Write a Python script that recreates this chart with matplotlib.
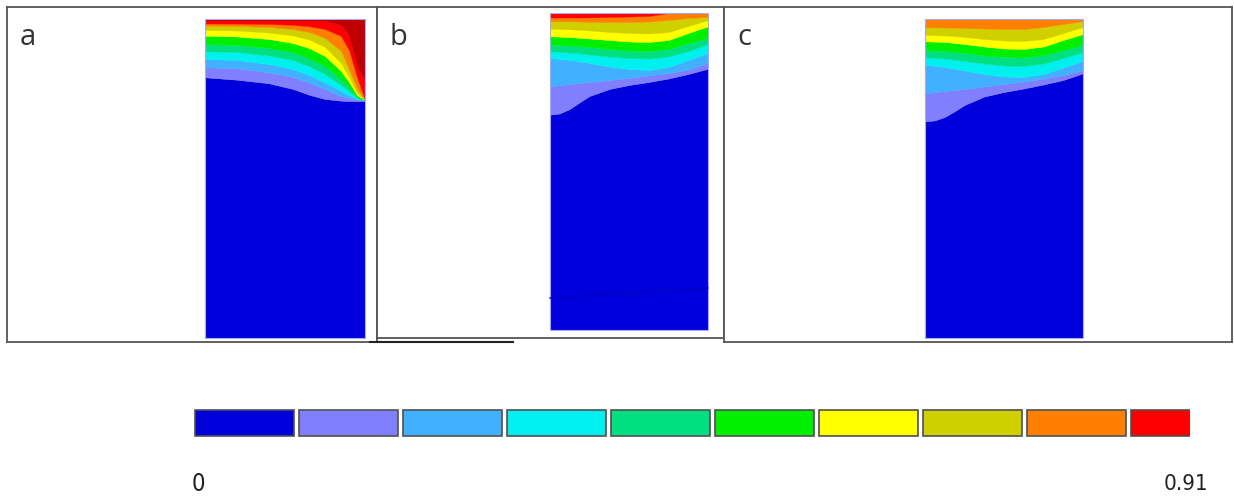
import numpy as np
import matplotlib.pyplot as plt
from matplotlib.lines import Line2D

W, H = 1234, 499

# fill colours of the ten contour bands (0 .. 0.91) plus the saturated top band
band_colors = ['#0000dd', '#8080ff', '#40b0ff', '#00f0f0', '#00e080',
               '#00ee00', '#ffff00', '#d0d000', '#ff8000', '#ff0000', '#c00000']
cbar_labels = ['0', '0.91']
panel_labels = ['a', 'b', 'c']

# depth of each band boundary below the top surface, deepest boundary first
# (blue/purple, purple/light blue, ... upward), sampled across the width
xa = [0, 0.2, 0.4, 0.55, 0.65, 0.75, 0.85, 0.9, 0.95, 1.0]
a_bounds = [
    [58.3, 60.7, 64.3, 70.0, 75.7, 80.0, 81.7, 82.0, 82.2, 82.3],
    [48.3, 49.3, 53.3, 58.0, 63.5, 70.0, 77.0, 79.0, 80.5, 81.5],
    [40.0, 41.0, 45.0, 50.0, 56.0, 63.5, 72.0, 76.0, 80.0, 81.0],
    [32.3, 33.0, 36.5, 41.0, 47.0, 55.0, 66.0, 72.0, 79.0, 81.0],
    [25.0, 26.0, 29.0, 33.0, 39.0, 47.0, 60.0, 68.0, 78.0, 81.0],
    [16.7, 17.5, 20.0, 24.0, 29.0, 37.0, 52.0, 63.0, 76.0, 81.0],
    [11.0, 11.5, 13.5, 16.5, 20.5, 28.0, 44.0, 58.0, 74.0, 81.0],
    [6.7, 7.0, 8.0, 10.0, 13.0, 19.0, 32.0, 50.0, 70.0, 81.0],
    [4.5, 4.6, 5.0, 5.8, 7.2, 10.0, 17.0, 31.0, 58.0, 81.0],
    [1.5, 1.5, 1.5, 1.5, 1.5, 1.5, 6.0, 16.0, 48.0, 60.0],
]

xb = [0, 0.06, 0.125, 0.19, 0.25, 0.375, 0.5, 0.625, 0.75, 0.875, 1.0]
b_bounds = [
    [101.7, 100.5, 96.0, 89.0, 83.0, 76.0, 72.0, 69.0, 65.5, 61.0, 55.7],
    [73.3, 72.2, 71.0, 70.0, 69.0, 67.0, 65.0, 62.5, 60.0, 56.5, 50.0],
    [45.0, 46.0, 47.0, 48.5, 50.0, 53.5, 56.0, 57.0, 54.0, 47.0, 40.0],
    [38.3, 38.9, 39.5, 40.5, 41.5, 43.5, 45.0, 45.5, 43.5, 38.0, 31.0],
    [31.7, 32.1, 32.5, 33.2, 34.0, 36.0, 37.5, 38.0, 36.0, 30.0, 25.0],
    [23.3, 23.6, 24.0, 24.8, 25.5, 27.0, 28.5, 29.0, 27.0, 20.0, 13.3],
    [15.7, 16.0, 16.3, 16.9, 17.5, 19.0, 20.0, 20.5, 19.0, 13.0, 7.0],
    [8.3, 8.3, 8.3, 8.5, 8.7, 9.0, 9.0, 8.5, 7.0, 5.0, 4.0],
    [4.5, 4.5, 4.5, 4.5, 4.4, 4.0, 3.5, 3.0, 0.0, 0.0, 0.0],
]
b_seam = [285, 275]

xc = [0, 0.06, 0.125, 0.19, 0.25, 0.375, 0.5, 0.625, 0.75, 0.875, 1.0]
c_bounds = [
    [102.3, 101.5, 98.0, 92.0, 86.0, 77.5, 73.0, 69.5, 65.5, 61.0, 54.3],
    [74.3, 73.2, 72.0, 71.0, 70.0, 67.5, 65.0, 62.5, 59.5, 56.0, 51.0],
    [45.7, 46.8, 48.0, 49.8, 51.5, 55.0, 57.5, 58.0, 55.0, 48.5, 41.7],
    [38.3, 38.9, 39.5, 40.8, 42.0, 44.5, 46.5, 47.0, 44.5, 39.0, 33.0],
    [31.0, 31.5, 32.0, 33.0, 34.0, 36.5, 38.0, 38.5, 36.0, 31.0, 26.0],
    [22.3, 22.6, 23.0, 24.0, 25.0, 27.5, 29.5, 30.0, 27.5, 21.0, 15.0],
    [15.7, 16.1, 16.5, 17.2, 18.0, 20.0, 21.5, 22.0, 20.0, 14.0, 8.0],
    [8.3, 8.4, 8.5, 8.8, 9.0, 9.5, 10.0, 10.0, 8.0, 5.0, 2.0],
]

# frame (left, right, top, bottom) and domain box, in pixels
frames = [(7, 377, 7, 342), (377, 724, 7, 338), (724, 1232, 7, 342)]
domains = [(205, 365, 19, 338), (550, 708, 13, 330), (925, 1083, 19, 338)]
panels = [(xa, a_bounds), (xb, b_bounds), (xc, c_bounds)]

fig = plt.figure(figsize=(W / 100, H / 100), dpi=100)

for i, ((L, R, T, B), (dl, dr, dt, db), (xs, bounds)) in enumerate(zip(frames, domains, panels)):
    ax = fig.add_axes([L / W, 1 - B / H, (R - L) / W, (B - T) / H])
    depth = db - dt
    ax.set_xlim((L - dl) / (dr - dl), (R - dl) / (dr - dl))
    ax.set_ylim(B - dt, T - dt)
    xs = np.array(xs)
    edges = [np.full(len(xs), float(depth))] + [np.array(b) for b in bounds] + [np.zeros(len(xs))]
    for k in range(len(edges) - 1):
        ax.fill_between(xs, edges[k], edges[k + 1], color=band_colors[k],
                        linewidth=0.3, edgecolor=band_colors[k])
    ax.plot([0, 1, 1, 0, 0], [0, 0, depth, depth, 0], color='#a8a8ff', lw=0.8)
    if i == 1:
        ax.plot([0, 1], b_seam, color='#0000c0', lw=1.0)
    ax.text((L + 13 - dl) / (dr - dl), 45 - dt, panel_labels[i], fontsize=21,
            family='Open Sans', color='#333333', va='baseline', ha='left')
    ax.set_xticks([])
    ax.set_yticks([])
    for s in ax.spines.values():
        s.set_color('#555555')
        s.set_linewidth(1.3)

fig.add_artist(Line2D([370 / W, 513 / W], [1 - 342 / H, 1 - 342 / H],
                      color='#222222', lw=1.5))

# colour key: ten boxes, the last one cut off at the right
cax = fig.add_axes([191 / W, 1 - 438 / H, (1190 - 191) / W, 30 / H])
cax.bar(np.arange(10), 1, width=0.952, bottom=0, color=band_colors[:10],
        edgecolor='#505050', linewidth=1.2)
cax.set_xlim((191 - 244.5) / 104, (1190 - 244.5) / 104)
cax.set_ylim(-0.08, 1.08)
cax.axis('off')

fig.text(198 / W, 1 - 484 / H, cbar_labels[0], fontsize=17, family='DejaVu Sans',
         stretch='condensed', ha='center', va='center', color='#222222')
fig.text(1186 / W, 1 - 484 / H, cbar_labels[1], fontsize=16, family='DejaVu Sans',
         stretch='condensed', ha='center', va='center', color='#222222')

fig.savefig('out.png', dpi=100)
